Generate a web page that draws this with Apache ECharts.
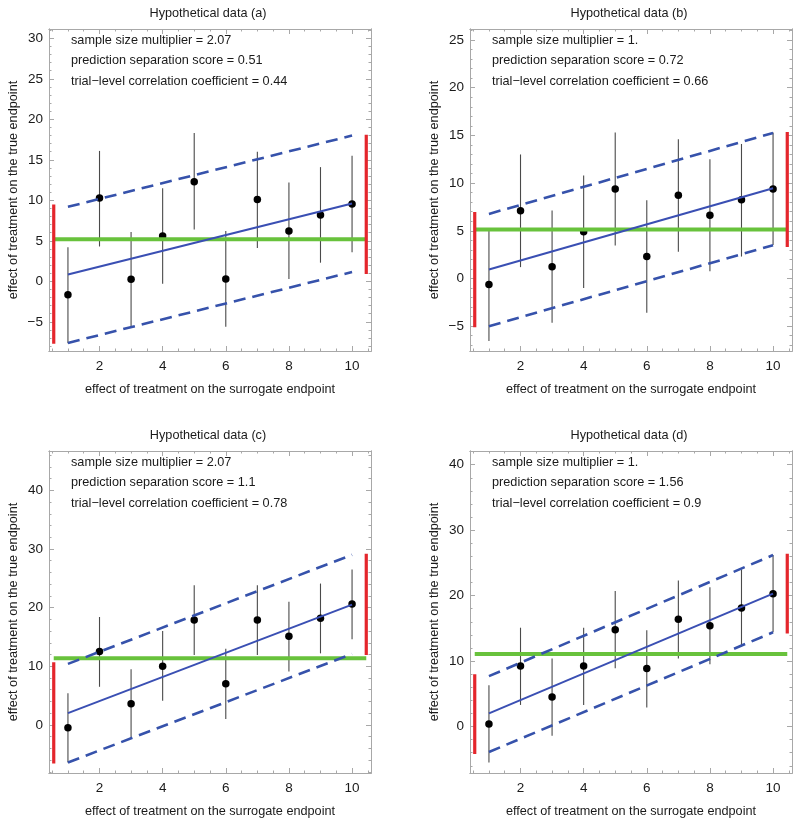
<!DOCTYPE html>
<html>
<head>
<meta charset="utf-8">
<script src="https://cdn.jsdelivr.net/npm/echarts@6/dist/echarts.min.js"></script>
<style>html,body{margin:0;padding:0;background:#fff}#chart{width:800px;height:826px}</style>
</head>
<body>
<div id="chart"></div>
<script>
// ---------- data ----------
const surrogate = [1, 2, 3, 4, 5, 6, 7, 8, 9, 10];
const xTicks = [2, 4, 6, 8, 10];

const titles = ['Hypothetical data (a)', 'Hypothetical data (b)', 'Hypothetical data (c)', 'Hypothetical data (d)'];
const sampleMult = ['2.07', '1.', '2.07', '1.'];
const sepScore = ['0.51', '0.72', '1.1', '1.56'];
const corrCoef = ['0.44', '0.66', '0.78', '0.9'];

// panel (a)
const aMean = [-1.65, 10.3, 0.25, 5.6, 12.3, 0.3, 10.1, 6.2, 8.2, 9.55];
const aLow  = [-7.65, 4.3, -5.6, -0.3, 6.4, -5.6, 4.1, 0.3, 2.3, 3.6];
const aHigh = [4.2, 16.1, 6.1, 11.5, 18.3, 6.2, 16.0, 12.2, 14.1, 15.5];
const aFit = [0.85, 9.6], aUpper = [9.2, 18.0], aLower = [-7.6, 1.15];
const aGreen = 5.2, aRedLeft = [-7.7, 9.5], aRedRight = [0.9, 18.1];
const aYTicks = [-5, 0, 5, 10, 15, 20, 25, 30];

// panel (b)
const bMean = [-0.63, 7.09, 1.22, 4.89, 9.39, 2.3, 8.73, 6.63, 8.24, 9.39];
const bLow  = [-6.56, 1.19, -4.64, -1.0, 3.46, -3.6, 2.8, 0.77, 2.3, 3.5];
const bHigh = [5.06, 13.0, 7.12, 10.8, 15.3, 8.2, 14.6, 12.5, 14.1, 15.3];
const bFit = [0.94, 9.46], bUpper = [6.77, 15.26], bLower = [-5.0, 3.49];
const bGreen = 5.13, bRedLeft = [-5.1, 6.98], bRedRight = [3.3, 15.36];
const bYTicks = [-5, 0, 5, 10, 15, 20, 25];

// panel (c)
const cMean = [-0.5, 12.5, 3.6, 10.0, 17.9, 7.0, 17.9, 15.1, 18.2, 20.6];
const cLow  = [-6.4, 6.5, -2.3, 4.1, 11.9, 1.0, 11.9, 9.1, 12.2, 14.6];
const cHigh = [5.4, 18.4, 9.5, 16.0, 23.8, 13.0, 23.8, 21.0, 24.1, 26.5];
const cFit = [2.0, 20.5], cUpper = [10.4, 29.0], cLower = [-6.4, 12.1];
const cGreen = 11.35, cRedLeft = [-6.6, 10.7], cRedRight = [11.9, 29.2];
const cYTicks = [0, 10, 20, 30, 40];

// panel (d)
const dMean = [0.4, 9.25, 4.5, 9.25, 14.8, 8.85, 16.4, 15.4, 18.1, 20.3];
const dLow  = [-5.5, 3.3, -1.4, 3.3, 8.9, 2.9, 10.4, 9.5, 12.2, 14.4];
const dHigh = [6.3, 15.1, 10.4, 15.1, 20.7, 14.7, 22.3, 21.3, 24.0, 26.2];
const dFit = [2.0, 20.3], dUpper = [7.7, 26.2], dLower = [-3.9, 14.4];
const dGreen = 11.1, dRedLeft = [-4.2, 8.0], dRedRight = [14.2, 26.4];
const dYTicks = [0, 10, 20, 30, 40];

// ---------- layout ----------
const xRange = [0.4, 10.6];
const fitX = [1, 10];
const bandX = [0.55, 10.45];
const xMinorStep = 0.5;
const yRanges = [[-8.6, 31.15], [-7.6, 26.15], [-8.2, 46.7], [-7.1, 42.1]];
const yMinorSteps = [1, 1, 2, 2];
const grids = [
  {left: 49, top: 29, width: 322, height: 322},
  {left: 470, top: 29, width: 322, height: 322},
  {left: 49, top: 451, width: 322, height: 322},
  {left: 470, top: 451, width: 322, height: 322}
];

const panels = [
  {mean: aMean, low: aLow, high: aHigh, fit: aFit, up: aUpper, lo: aLower, green: aGreen, redL: aRedLeft, redR: aRedRight, yTicks: aYTicks},
  {mean: bMean, low: bLow, high: bHigh, fit: bFit, up: bUpper, lo: bLower, green: bGreen, redL: bRedLeft, redR: bRedRight, yTicks: bYTicks},
  {mean: cMean, low: cLow, high: cHigh, fit: cFit, up: cUpper, lo: cLower, green: cGreen, redL: cRedLeft, redR: cRedRight, yTicks: cYTicks},
  {mean: dMean, low: dLow, high: dHigh, fit: dFit, up: dUpper, lo: dLower, green: dGreen, redL: dRedLeft, redR: dRedRight, yTicks: dYTicks}
];

const FONT = '"Liberation Sans", Arial, sans-serif';
const FRAME = '#a8a8a8';
const TXT = '#1a1a1a';

function stepsIn(lo, hi, step) {
  const out = [];
  const start = Math.ceil(lo / step - 1e-9) * step;
  for (let v = start; v <= hi + 1e-9; v += step) out.push(Math.round(v * 1000) / 1000);
  return out;
}
const fmt = v => String(v).replace('-', '\u2212');

const xAxes = [], yAxes = [], series = [], graphics = [];

panels.forEach((p, i) => {
  const xMinor = stepsIn(xRange[0], xRange[1], xMinorStep);
  const yMinor = stepsIn(yRanges[i][0], yRanges[i][1], yMinorSteps[i]);
  const baseX = {
    type: 'value', gridIndex: i, min: xRange[0], max: xRange[1],
    splitLine: {show: false},
    axisLine: {show: true, onZero: false, lineStyle: {color: FRAME, width: 1}}
  };
  const baseY = {
    type: 'value', gridIndex: i, min: yRanges[i][0], max: yRanges[i][1],
    splitLine: {show: false},
    axisLine: {show: true, onZero: false, lineStyle: {color: FRAME, width: 1}}
  };
  const major = (vals, len) => ({show: true, inside: true, length: len, customValues: vals, lineStyle: {color: FRAME, width: 1}});
  const noLabel = {show: false};
  // x axes: bottom major (labels), bottom minor, top major, top minor
  xAxes.push(Object.assign({}, baseX, {
    position: 'bottom',
    name: 'effect of treatment on the surrogate endpoint',
    nameLocation: 'middle', nameGap: 32,
    nameTextStyle: {fontFamily: FONT, fontSize: 12.7, color: TXT},
    axisTick: major(xTicks, 5),
    axisLabel: {show: true, customValues: xTicks, formatter: fmt, margin: 8, fontFamily: FONT, fontSize: 13.5, color: TXT}
  }));
  xAxes.push(Object.assign({}, baseX, {position: 'bottom', axisTick: major(xMinor, 2.5), axisLabel: noLabel}));
  xAxes.push(Object.assign({}, baseX, {position: 'top', axisTick: major(xTicks, 5), axisLabel: noLabel}));
  xAxes.push(Object.assign({}, baseX, {position: 'top', axisTick: major(xMinor, 2.5), axisLabel: noLabel}));
  // y axes
  yAxes.push(Object.assign({}, baseY, {
    position: 'left',
    name: 'effect of treatment on the true endpoint',
    nameLocation: 'middle', nameGap: 29,
    nameTextStyle: {fontFamily: FONT, fontSize: 12.7, color: TXT},
    axisTick: major(p.yTicks, 5),
    axisLabel: {show: true, customValues: p.yTicks, formatter: fmt, margin: 6, fontFamily: FONT, fontSize: 13.5, color: TXT}
  }));
  yAxes.push(Object.assign({}, baseY, {position: 'left', axisTick: major(yMinor, 2.5), axisLabel: noLabel}));
  yAxes.push(Object.assign({}, baseY, {position: 'right', axisTick: major(p.yTicks, 5), axisLabel: noLabel}));
  yAxes.push(Object.assign({}, baseY, {position: 'right', axisTick: major(yMinor, 2.5), axisLabel: noLabel}));

  const xi = i * 4, yi = i * 4;
  // error bars
  series.push({
    type: 'custom', xAxisIndex: xi, yAxisIndex: yi, silent: true, z: 2,
    encode: {x: 0, y: [1, 2]},
    data: surrogate.map((x, k) => [x, p.low[k], p.high[k]]),
    renderItem: (params, api) => {
      const a = api.coord([api.value(0), api.value(1)]);
      const b = api.coord([api.value(0), api.value(2)]);
      return {type: 'line', shape: {x1: a[0], y1: a[1], x2: b[0], y2: b[1]}, style: {stroke: '#4a4a4a', lineWidth: 1.1}};
    }
  });
  // points
  series.push({
    type: 'scatter', xAxisIndex: xi, yAxisIndex: yi, z: 3, silent: true,
    symbol: 'circle', symbolSize: 7.5, itemStyle: {color: '#000', opacity: 1},
    data: surrogate.map((x, k) => [x, p.mean[k]])
  });
  const lineS = (data, color, width, type, z) => ({
    type: 'line', xAxisIndex: xi, yAxisIndex: yi, z: z, silent: true,
    showSymbol: false, symbol: 'none', animation: false,
    lineStyle: {color: color, width: width, type: type, cap: 'butt'},
    data: data
  });
  series.push(lineS([[bandX[0], p.green], [bandX[1], p.green]], '#68c23c', 4, 'solid', 4));
  series.push(lineS([[fitX[0], p.fit[0]], [fitX[1], p.fit[1]]], '#3a4fb3', 2, 'solid', 5));
  series.push(lineS([[fitX[0], p.up[0]], [fitX[1], p.up[1]]], '#3652ab', 2.6, [12, 7], 5));
  series.push(lineS([[fitX[0], p.lo[0]], [fitX[1], p.lo[1]]], '#3652ab', 2.6, [12, 7], 5));
  series.push(lineS([[bandX[0], p.redL[0]], [bandX[0], p.redL[1]]], '#e4262c', 3.2, 'solid', 6));
  series.push(lineS([[bandX[1], p.redR[0]], [bandX[1], p.redR[1]]], '#e4262c', 3.2, 'solid', 6));

  // title
  const g = grids[i];
  graphics.push({
    type: 'text', x: g.left + 159, y: g.top - 16,
    style: {text: titles[i], fontFamily: FONT, fontSize: 12.7, fill: TXT, align: 'center', verticalAlign: 'middle'}
  });
  const lines = [
    'sample size multiplier = ' + sampleMult[i],
    'prediction separation score = ' + sepScore[i],
    'trial\u2212level correlation coefficient = ' + corrCoef[i]
  ];
  lines.forEach((t, k) => graphics.push({
    type: 'text', x: g.left + 22, y: g.top + 11 + k * 20.6,
    style: {text: t, fontFamily: FONT, fontSize: 12.7, fill: TXT, align: 'left', verticalAlign: 'middle'}
  }));
});

const chart = echarts.init(document.getElementById('chart'), null, {renderer: 'canvas'});
chart.setOption({
  animation: false,
  backgroundColor: '#fff',
  grid: grids.map(g => Object.assign({show: false, containLabel: false}, g)),
  xAxis: xAxes,
  yAxis: yAxes,
  series: series,
  graphic: graphics
});
</script>
</body>
</html>
